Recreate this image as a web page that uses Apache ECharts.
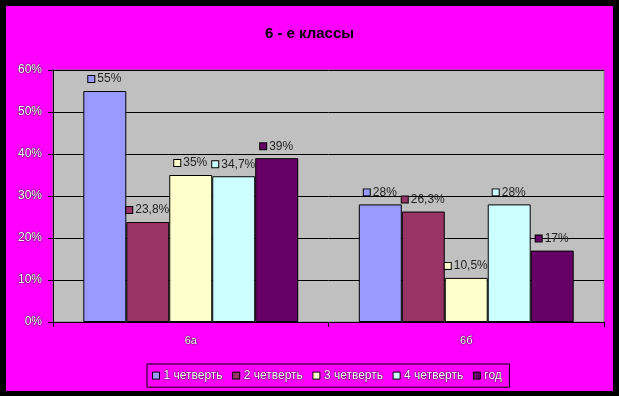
<!DOCTYPE html>
<html><head><meta charset="utf-8">
<script src="https://cdn.jsdelivr.net/npm/echarts@6/dist/echarts.min.js"></script>
<style>
html,body{margin:0;padding:0;background:#000;width:619px;height:396px;overflow:hidden}
#c{position:absolute;left:6px;top:6px;width:607px;height:385px;}
</style></head><body>
<div id="c"></div>
<script>
const title = '6 - е классы';
const categories = ['6а', '6б'];
const seriesNames = ['1 четверть', '2 четверть', '3 четверть', '4 четверть', 'год'];
const q1 = [55, 28];
const q2 = [23.8, 26.3];
const q3 = [35, 10.5];
const q4 = [34.7, 28];
const year = [39, 17];
const yTicks = [0, 10, 20, 30, 40, 50, 60];
const colors = ['#9999FF', '#993366', '#FFFFCC', '#CCFFFF', '#660066'];
const values = [q1, q2, q3, q4, year];

const font = 'Liberation Sans, Arial, sans-serif';
const chart = echarts.init(document.getElementById('c'));
const fmt = v => String(v).replace('.', ',') + '%';
const outl = { color: '#fff', textBorderColor: 'rgba(0,0,0,0.55)', textBorderWidth: 1.2 };

chart.setOption({
  backgroundColor: '#FF00FF',
  animation: false,
  title: {
    text: title, left: 'center', top: 15,
    textStyle: { fontFamily: font, fontSize: 15, fontWeight: 'bold', color: '#000',
      textShadowColor: 'rgba(255,255,255,0.7)', textShadowOffsetX: 1, textShadowOffsetY: 1, textShadowBlur: 0 }
  },
  grid: { left: 47, right: 9, top: 64, bottom: 69, show: true, backgroundColor: '#C0C0C0', borderColor: '#808080', borderWidth: 1 },
  legend: {
    left: 141, top: 358, itemWidth: 7, itemHeight: 7, itemGap: 9,
    padding: [5, 7, 5, 5], borderColor: '#000', borderWidth: 1,
    icon: 'rect',
    data: seriesNames,
    itemStyle: { borderColor: '#000', borderWidth: 1 },
    textStyle: Object.assign({ fontFamily: font, fontSize: 12, padding: [0, 0, 0, -1] }, outl)
  },
  xAxis: {
    type: 'category', data: categories,
    axisLine: { lineStyle: { color: '#000', width: 1 } },
    axisTick: { show: true, alignWithLabel: false, length: 5, lineStyle: { color: '#000' } },
    axisLabel: Object.assign({ fontFamily: font, fontSize: 11, margin: 13 }, outl)
  },
  yAxis: {
    type: 'value', min: yTicks[0], max: yTicks[yTicks.length - 1], interval: 10,
    axisLine: { show: true, lineStyle: { color: '#000', width: 1 } },
    axisTick: { show: true, length: 5, lineStyle: { color: '#000' } },
    splitLine: { lineStyle: { color: '#000', width: 1 } },
    axisLabel: Object.assign({ fontFamily: font, fontSize: 12, margin: 11, formatter: v => v + '%' }, outl)
  },
  series: seriesNames.map((name, i) => ({
    name, type: 'bar', data: values[i],
    barGap: '0%', barCategoryGap: '22%',
    itemStyle: { color: colors[i], borderColor: '#000', borderWidth: 1 },
    label: {
      show: true, position: 'top', distance: 6,
      formatter: p => '{s|}{t|' + fmt(p.value) + '}',
      rich: {
        s: { width: 6, height: 6, backgroundColor: colors[i], borderColor: '#000', borderWidth: 1 },
        t: { fontFamily: font, fontSize: 12, color: '#222', padding: [0, 0, 0, 3] }
      }
    }
  }))
});
</script>
</body></html>
